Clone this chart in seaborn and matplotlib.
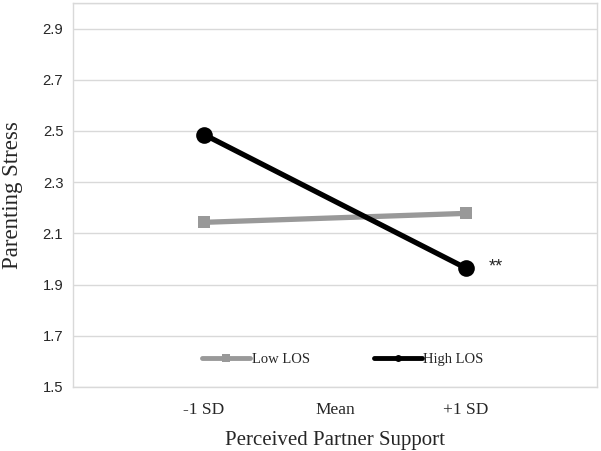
import numpy as np
import pandas as pd
import seaborn as sns
import matplotlib.pyplot as plt
from matplotlib.lines import Line2D

sns.set_style("white")

# data
support_levels = [-1, 0, 1]
tick_labels = ["-1 SD", "Mean", "+1 SD"]
low_x = [-1, 1]
low_los = [2.143, 2.178]
high_x = [-1, 1]
high_los = [2.486, 1.964]
y_ticks = [1.5, 1.7, 1.9, 2.1, 2.3, 2.5, 2.7, 2.9]

low_df = pd.DataFrame({"support": low_x, "stress": low_los})
high_df = pd.DataFrame({"support": high_x, "stress": high_los})

GRAY = "#999999"
GRID = "#d9d9d9"
serif = "Liberation Serif"
sans = "Liberation Sans"

fig = plt.figure(figsize=(6.01, 4.51), dpi=100)
ax = fig.add_axes([0.1215, 0.142, 0.8718, 0.8515])

for yv in y_ticks + [3.0]:
    ax.axhline(yv, color=GRID, lw=1, zorder=0)

sns.lineplot(data=low_df, x="support", y="stress", color=GRAY, lw=3.8,
             marker="s", markersize=9, markeredgewidth=0, ax=ax, zorder=3)
sns.lineplot(data=high_df, x="support", y="stress", color="black", lw=3.8,
             marker="o", markersize=12, markeredgewidth=0, ax=ax, zorder=4)

ax.annotate("**", xy=(high_x[1], high_los[1]), xytext=(16, 1),
            textcoords="offset points", ha="left", va="center",
            fontsize=13, family=sans)

ax.set_xlim(-2, 2)
ax.set_ylim(1.5, 3.0)
ax.set_xticks(support_levels)
ax.set_xticklabels(tick_labels, family=serif, fontsize=12.5)
ax.set_yticks(y_ticks)
ax.set_yticklabels([f"{v:.1f}" for v in y_ticks], family=sans, fontsize=10.6,
                   color="#262626")
ax.tick_params(axis="both", length=0)
ax.tick_params(axis="x", pad=11)
ax.tick_params(axis="y", pad=7)

for side in ["left", "right", "top", "bottom"]:
    ax.spines[side].set_color(GRID)
    ax.spines[side].set_linewidth(1)

ax.set_xlabel("Perceived Partner Support", family=serif, fontsize=15, labelpad=9)
ax.set_ylabel("Parenting Stress", family=serif, fontsize=16.5, labelpad=14)

handles = [
    Line2D([], [], color=GRAY, lw=3.5, marker="s", markersize=6, markeredgewidth=0),
    Line2D([], [], color="black", lw=3.5, marker="o", markersize=5, markeredgewidth=0),
]
ax.legend(handles, ["Low LOS", "High LOS"], loc="center", bbox_to_anchor=(0.515, 0.072),
          ncol=2, frameon=False, prop={"family": serif, "size": 10.5},
          handlelength=3.3, handletextpad=0.1, columnspacing=4.4)

fig.savefig("out.png", dpi=100)
